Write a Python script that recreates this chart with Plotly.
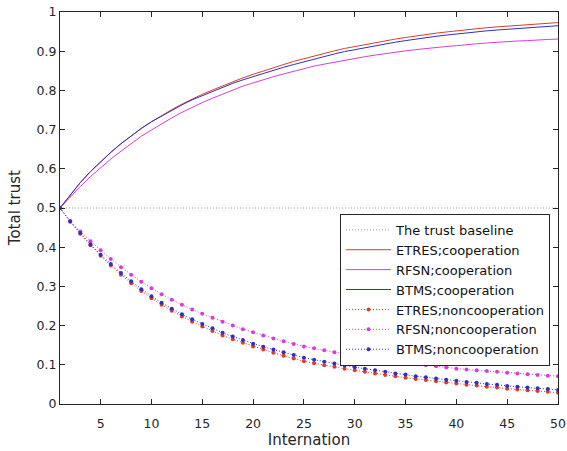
import plotly.graph_objects as go

iterations = list(range(1, 51))

baseline = [0.5] * 50

etres_coop = [0.500, 0.534, 0.565, 0.593, 0.618, 0.642, 0.664, 0.684, 0.703, 0.720,
              0.736, 0.751, 0.765, 0.778, 0.790, 0.801, 0.812, 0.822, 0.832, 0.841,
              0.850, 0.858, 0.866, 0.874, 0.881, 0.888, 0.895, 0.901, 0.907, 0.912,
              0.917, 0.922, 0.927, 0.931, 0.935, 0.939, 0.943, 0.946, 0.949, 0.952,
              0.955, 0.958, 0.960, 0.962, 0.964, 0.966, 0.968, 0.970, 0.971, 0.973]

rfsn_coop = [0.500, 0.528, 0.555, 0.580, 0.603, 0.625, 0.645, 0.665, 0.683, 0.699,
             0.715, 0.730, 0.744, 0.757, 0.769, 0.780, 0.791, 0.801, 0.811, 0.819,
             0.828, 0.835, 0.842, 0.849, 0.856, 0.862, 0.867, 0.872, 0.877, 0.882,
             0.886, 0.890, 0.894, 0.897, 0.901, 0.904, 0.907, 0.910, 0.912, 0.914,
             0.917, 0.919, 0.921, 0.923, 0.924, 0.926, 0.927, 0.929, 0.930, 0.931]

btms_coop = [0.500, 0.534, 0.565, 0.593, 0.618, 0.642, 0.664, 0.684, 0.703, 0.720,
             0.735, 0.750, 0.763, 0.776, 0.787, 0.798, 0.808, 0.818, 0.827, 0.835,
             0.844, 0.851, 0.859, 0.866, 0.873, 0.880, 0.887, 0.893, 0.899, 0.904,
             0.909, 0.914, 0.919, 0.923, 0.927, 0.931, 0.935, 0.938, 0.941, 0.944,
             0.947, 0.950, 0.952, 0.954, 0.956, 0.958, 0.960, 0.962, 0.963, 0.965]

etres_noncoop = [0.500, 0.465, 0.434, 0.405, 0.378, 0.353, 0.330, 0.308, 0.288, 0.270,
                 0.253, 0.238, 0.223, 0.210, 0.198, 0.186, 0.175, 0.165, 0.156, 0.147,
                 0.139, 0.131, 0.123, 0.116, 0.109, 0.104, 0.099, 0.095, 0.090, 0.086,
                 0.082, 0.078, 0.074, 0.071, 0.067, 0.064, 0.061, 0.058, 0.055, 0.052,
                 0.049, 0.047, 0.044, 0.042, 0.039, 0.037, 0.035, 0.033, 0.031, 0.029]

rfsn_noncoop = [0.500, 0.467, 0.440, 0.415, 0.392, 0.370, 0.349, 0.330, 0.312, 0.295,
                0.280, 0.266, 0.253, 0.241, 0.230, 0.220, 0.210, 0.200, 0.191, 0.183,
                0.175, 0.167, 0.160, 0.153, 0.147, 0.142, 0.137, 0.132, 0.128, 0.124,
                0.120, 0.116, 0.112, 0.108, 0.105, 0.102, 0.099, 0.096, 0.093, 0.090,
                0.088, 0.086, 0.084, 0.082, 0.080, 0.078, 0.076, 0.074, 0.072, 0.071]

btms_noncoop = [0.500, 0.466, 0.436, 0.407, 0.381, 0.357, 0.334, 0.313, 0.293, 0.275,
                0.258, 0.243, 0.229, 0.216, 0.204, 0.193, 0.182, 0.172, 0.163, 0.154,
                0.146, 0.139, 0.132, 0.125, 0.118, 0.113, 0.108, 0.103, 0.098, 0.094,
                0.090, 0.086, 0.082, 0.078, 0.075, 0.071, 0.068, 0.065, 0.062, 0.059,
                0.056, 0.054, 0.051, 0.049, 0.046, 0.044, 0.042, 0.040, 0.038, 0.036]

x_ticks = [5, 10, 15, 20, 25, 30, 35, 40, 45, 50]
y_ticks = [0, 0.1, 0.2, 0.3, 0.4, 0.5, 0.6, 0.7, 0.8, 0.9, 1]
y_tick_labels = ["0", "0.1", "0.2", "0.3", "0.4", "0.5", "0.6", "0.7", "0.8", "0.9", "1"]

RED = "#dc3c28"
MAG = "#d83cd8"
BLUE = "#3030c0"
BASE = "#8fa8a8"
INK = "#262626"
FONT = "DejaVu Sans, Liberation Sans, sans-serif"

fig = go.Figure()
fig.add_trace(go.Scatter(x=iterations, y=baseline, mode="lines", name="The trust baseline",
                         line=dict(color=BASE, width=1, dash="1px,2px")))
fig.add_trace(go.Scatter(x=iterations, y=etres_coop, mode="lines", name="ETRES;cooperation",
                         line=dict(color=RED, width=1)))
fig.add_trace(go.Scatter(x=iterations, y=rfsn_coop, mode="lines", name="RFSN;cooperation",
                         line=dict(color=MAG, width=1)))
fig.add_trace(go.Scatter(x=iterations, y=btms_coop, mode="lines", name="BTMS;cooperation",
                         line=dict(color=BLUE, width=1)))
fig.add_trace(go.Scatter(x=iterations, y=etres_noncoop, mode="lines+markers", name="ETRES;noncooperation",
                         line=dict(color=RED, width=1, dash="1px,2px"),
                         marker=dict(color=RED, size=4, symbol="circle")))
fig.add_trace(go.Scatter(x=iterations, y=rfsn_noncoop, mode="lines+markers", name="RFSN;noncooperation",
                         line=dict(color=MAG, width=1, dash="1px,2px"),
                         marker=dict(color=MAG, size=4, symbol="circle")))
fig.add_trace(go.Scatter(x=iterations, y=btms_noncoop, mode="lines+markers", name="BTMS;noncooperation",
                         line=dict(color=BLUE, width=1, dash="1px,2px"),
                         marker=dict(color=BLUE, size=4, symbol="circle")))

axis_common = dict(showgrid=False, zeroline=False, showline=True, linecolor=INK,
                   linewidth=1, mirror="ticks", ticks="inside", ticklen=5, tickwidth=1,
                   tickcolor=INK, tickfont=dict(size=12.5, color=INK, family=FONT),
                   automargin=False, ticklabeloverflow="allow")

fig.update_layout(
    width=567, height=451,
    margin=dict(l=60, r=9, t=12, b=47),
    paper_bgcolor="white", plot_bgcolor="white",
    font=dict(family=FONT, color=INK, size=13),
    xaxis=dict(range=[1, 50], tickvals=x_ticks, ticklabelstandoff=8,
               title=dict(text="Internation", standoff=1, font=dict(size=15)),
               **axis_common),
    yaxis=dict(range=[0, 1], tickvals=y_ticks, ticktext=y_tick_labels,
               **axis_common),
    legend=dict(x=0.984, y=0.485, xanchor="right", yanchor="top",
                bgcolor="white", bordercolor=INK, borderwidth=1,
                font=dict(size=13, color="#111111", family=FONT), tracegroupgap=0,
                itemwidth=45),
    showlegend=True,
)

# y-axis title placed as rotated text at the left edge, like the reference
fig.add_annotation(text="Total trust", textangle=-90, xref="paper", yref="paper",
                   x=-0.09, y=0.5, xanchor="center", yanchor="middle", showarrow=False,
                   font=dict(size=15, color=INK, family=FONT))

fig.write_html("out.html",
               config={"displayModeBar": False},
               post_script="document.documentElement.style.margin='0px';"
                           "document.body.style.margin='0px';"
                           "document.body.style.overflow='hidden';")
